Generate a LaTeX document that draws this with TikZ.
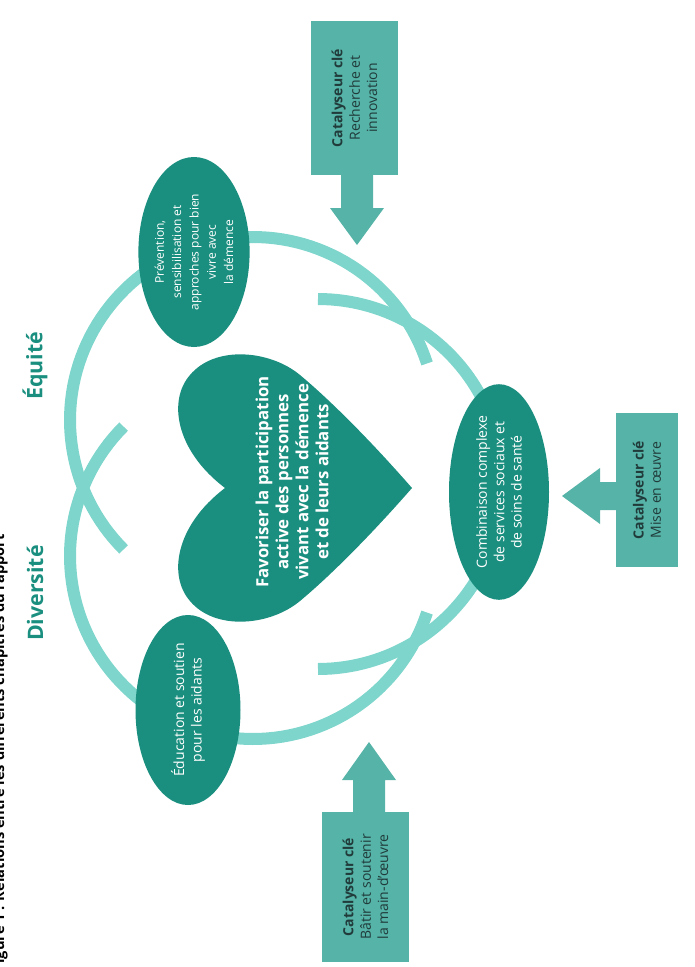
\documentclass[tikz,border=0pt]{standalone}
\usepackage{fontspec}
\setmainfont{Open Sans}
\usetikzlibrary{shapes.geometric}
\definecolor{ring}{HTML}{7DD5CB}
\definecolor{dark}{HTML}{1B8F7F}
\definecolor{boxc}{HTML}{55B3A7}
\definecolor{txtd}{HTML}{213B3B}
\begin{document}
\begin{tikzpicture}[x=0.75pt,y=-0.75pt,
  ringline/.style={draw=ring, line width=9pt, line cap=butt},
  blob/.style={ellipse, fill=dark, text=white, inner sep=0pt, align=center, rotate=90},
  catbox/.style={rectangle, fill=boxc, text=txtd, inner sep=0pt, align=center, rotate=90,
    font=\fontsize{10.5}{13}\selectfont},
  fatarrow/.style={fill=boxc},
  biglabel/.style={text=dark, rotate=90, font=\bfseries\fontsize{16}{19}\selectfont}]
\useasboundingbox (0,0) rectangle (694,967);
% title (cut at left edge)
\node[rotate=90, anchor=base west, inner sep=0pt, font=\bfseries\fontsize{11}{13}\selectfont]
  (title) at (4,972) {Figure 1 : Relations entre les différents chapitres du rapport};
% rings
\draw[ringline] plot[domain=135:342, samples=90, variable=\t] ({253+183*cos(\t)},{420+183*sin(\t)});
\draw[ringline] plot[domain=18:225, samples=90, variable=\t] ({253+183*cos(\t)},{556+183*sin(\t)});
\draw[ringline] plot[domain=-90:90, samples=90, variable=\t] ({318+185*cos(\t)},{484+185*sin(\t)});
% ellipses
\node[blob, minimum width=142.5pt, minimum height=76.5pt, font=\fontsize{9}{13}\selectfont]
  (prev) at (194,252) {Prévention,\\sensibilisation et\\approches pour bien\\vivre avec\\la démence};
\node[blob, minimum width=142.5pt, minimum height=78.75pt, font=\fontsize{10.5}{13}\selectfont]
  (educ) at (188,710) {Éducation et soutien\\pour les aidants};
\node[blob, minimum width=142.5pt, minimum height=75pt, font=\fontsize{10.5}{13}\selectfont]
  (comb) at (499,492) {Combinaison complexe\\de services sociaux et\\de soins de santé};
% heart
\fill[dark] (412,488) .. controls (370,440) and (330,400) .. (300,375)
 .. controls (270,350) and (215,345) .. (190,375)
 .. controls (168,400) and (175,450) .. (225,488)
 .. controls (175,526) and (168,576) .. (190,601)
 .. controls (215,631) and (270,626) .. (300,601)
 .. controls (330,576) and (370,536) .. (412,488) -- cycle;
\node[rotate=90, text=white, align=center, font=\bfseries\fontsize{12.6}{15}\selectfont]
  (heart) at (292,482) {Favoriser la participation\\active des personnes\\vivant avec la démence\\et de leurs aidants};
% labels
\node[biglabel] (equ) at (35,366) {Équité};
\node[biglabel] (div) at (35,593) {Diversité};
% catalyst boxes
\node[catbox, minimum width=115.5pt, minimum height=65.25pt] (cat1) at (354.5,98)
  {\textbf{Catalyseur clé}\\Recherche et\\innovation};
\node[catbox, minimum width=115.5pt, minimum height=46.5pt] (cat2) at (647,490)
  {\textbf{Catalyseur clé}\\Mise en œuvre};
\node[catbox, minimum width=112.5pt, minimum height=65.25pt] (cat3) at (365.5,887)
  {\textbf{Catalyseur clé}\\Bâtir et soutenir\\la main-d'œuvre};
% arrows
\fill[fatarrow] (341,174) -- (373,174) -- (373,208) -- (384,208) -- (357,245) -- (330,208) -- (341,208) -- cycle;
\fill[fatarrow] (617,482) -- (617,510) -- (600,510) -- (600,524) -- (562,496) -- (600,468) -- (600,482) -- cycle;
\fill[fatarrow] (353,813) -- (385,813) -- (385,780) -- (396,780) -- (369,742) -- (342,780) -- (353,780) -- cycle;
\end{tikzpicture}
\end{document}
